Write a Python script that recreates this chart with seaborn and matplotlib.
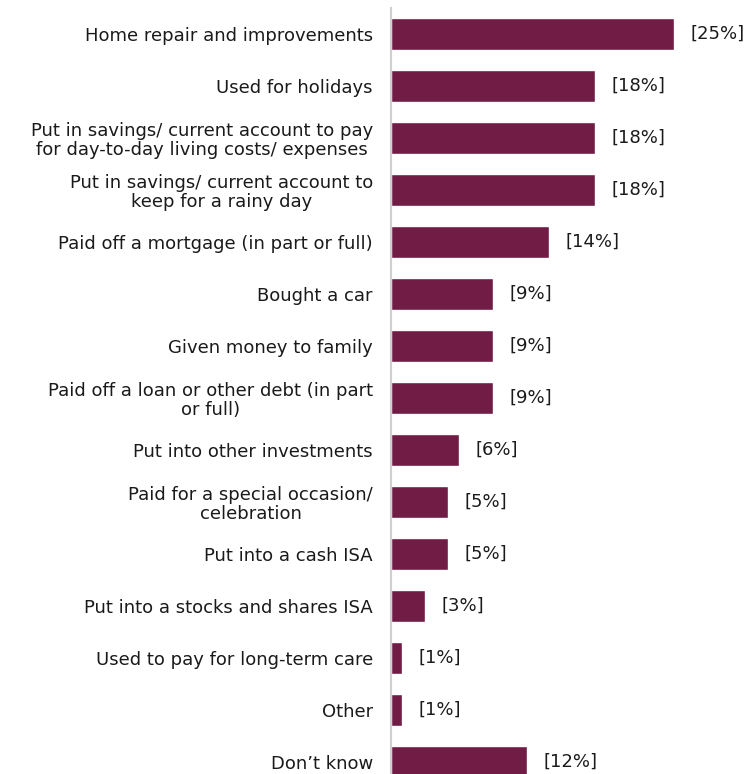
import matplotlib
matplotlib.use('Agg')
import matplotlib.pyplot as plt
import seaborn as sns
import pandas as pd

categories = [
    'Home repair and improvements',
    'Used for holidays',
    'Put in savings/ current account to pay\nfor day-to-day living costs/ expenses',
    'Put in savings/ current account to\nkeep for a rainy day',
    'Paid off a mortgage (in part or full)',
    'Bought a car',
    'Given money to family',
    'Paid off a loan or other debt (in part\nor full)',
    'Put into other investments',
    'Paid for a special occasion/\ncelebration',
    'Put into a cash ISA',
    'Put into a stocks and shares ISA',
    'Used to pay for long-term care',
    'Other',
    'Don\u2019t know',
]
values = [25, 18, 18, 18, 14, 9, 9, 9, 6, 5, 5, 3, 1, 1, 12]

df = pd.DataFrame({'use': categories, 'pct': values})

sns.set_style('white')
plt.rcParams['font.family'] = ['DejaVu Sans']

fig = plt.figure(figsize=(7.51, 7.74), dpi=100)
ax = fig.add_axes([391 / 751, 0, 1 - 391 / 751, 1 - 8 / 774])

sns.barplot(data=df, x='pct', y='use', orient='h', color='#701c45',
            saturation=1, width=0.63, ax=ax)

ax.set_xlim(0, 360 / 11.32)
ax.set_ylim(14.23, -0.5)

for i, v in enumerate(values):
    ax.text(v + 1.45, i, f'[{v}%]', va='center', ha='left',
            fontsize=13, color='#1a1a1a')

ax.set_xlabel('')
ax.set_ylabel('')
ax.set_xticks([])
ax.tick_params(axis='y', length=0, pad=13, labelsize=13, labelcolor='#1a1a1a')
for lab in ax.get_yticklabels():
    lab.set_horizontalalignment('right')
    lab.set_multialignment('center')
    lab.set_linespacing(1.05)

for s in ['top', 'right', 'bottom']:
    ax.spines[s].set_visible(False)
ax.spines['left'].set_color('#d0d0d0')
ax.spines['left'].set_linewidth(1.5)

fig.savefig('out.png', dpi=100)
